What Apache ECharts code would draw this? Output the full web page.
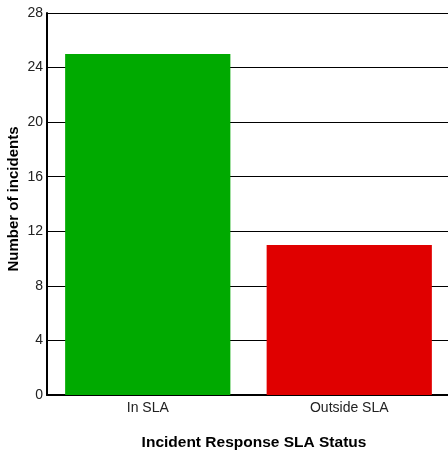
<!DOCTYPE html>
<html><head><meta charset="utf-8">
<script src="https://cdn.jsdelivr.net/npm/echarts@6/dist/echarts.min.js"></script>
<style>html,body{margin:0;padding:0;background:#fff}#c{width:448px;height:457px}</style>
</head><body><div id="c"></div>
<script>
const categories = ["In SLA", "Outside SLA"];
const values = [25, 11];
const barColors = ["#00AA00", "#E00000"];
const yTicks = [0, 4, 8, 12, 16, 20, 24, 28];

const chart = echarts.init(document.getElementById('c'), null, {renderer: 'canvas'});
chart.setOption({
  animation: false,
  textStyle: {fontFamily: 'Liberation Sans, Arial, sans-serif'},
  grid: {left: 47, right: -2, top: 13, bottom: 62, containLabel: false, outerBoundsMode: 'none'},
  xAxis: {
    type: 'category', data: categories,
    name: 'Incident Response SLA Status', nameLocation: 'middle', nameGap: 40,
    nameTextStyle: {fontWeight: 'bold', fontSize: 15.5, color: '#000', fontFamily: 'Liberation Sans', padding: [0, 0, 0, 11]},
    axisLine: {lineStyle: {color: '#000', width: 2}},
    axisTick: {show: false},
    axisLabel: {color: '#222', fontSize: 14, margin: 6, fontFamily: 'Liberation Sans'}
  },
  yAxis: {
    type: 'value', min: yTicks[0], max: yTicks[yTicks.length - 1], interval: 4,
    name: 'Number of incidents', nameLocation: 'middle', nameGap: 26, nameMoveOverlap: false,
    nameTextStyle: {fontWeight: 'bold', fontSize: 15, color: '#000', fontFamily: 'Liberation Sans', padding: [0, 0, 0, 10]},
    axisLine: {show: true, lineStyle: {color: '#000', width: 2}},
    axisTick: {show: false},
    splitLine: {lineStyle: {color: '#000', width: 1}},
    axisLabel: {color: '#222', fontSize: 14, margin: 4, fontFamily: 'Liberation Sans'}
  },
  series: [{
    type: 'bar', barWidth: '82%',
    data: values.map((v, i) => ({value: v, itemStyle: {color: barColors[i]}}))
  }]
});
</script></body></html>
